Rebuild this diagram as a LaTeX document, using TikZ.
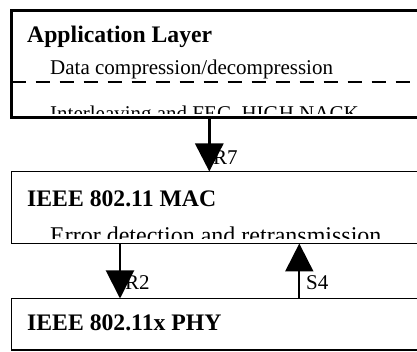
\documentclass[tikz,border=0pt]{standalone}
\usepackage{fontspec}
\setmainfont{Liberation Serif}
\usetikzlibrary{arrows.meta}

\tikzset{
  layer/.style={draw, line width=#1, inner sep=0pt, outer sep=0pt, anchor=north west},
  txt/.style={anchor=base west, inner sep=0pt, font=\fontsize{21}{25}\selectfont},
  head/.style={anchor=base west, inner sep=0pt, font=\fontsize{23.7}{28}\selectfont\bfseries},
  flow/.style={line width=#1, -{Triangle[length=28pt,width=28pt]}},
}

\begin{document}
\begin{tikzpicture}[x=1pt,y=-1pt]
  \useasboundingbox (0,0) rectangle (417,352);
  \clip (0,0) rectangle (417,352);

  % text lines cut off near the bottom edge of their layer
  \begin{scope}
    \clip (11.5,10.5) rectangle (417,113.5);
    \node[txt] (app3) at (50,121) {Interleaving and FEC, HIGH NACK};
  \end{scope}
  \begin{scope}
    \clip (11.5,171.5) rectangle (417,238.5);
    \node[txt, font=\fontsize{24}{28}\selectfont] (mac2) at (50,244) {Error detection and retransmission};
  \end{scope}

  % layers (they run on past the right edge)
  \node[layer=3pt, minimum width=420pt, minimum height=107pt] (app) at (11.5,10.5) {};
  \node[layer=1.5pt, minimum width=420pt, minimum height=72pt] (mac) at (11.5,171.5) {};
  \node[layer=1.5pt, minimum width=420pt, minimum height=51.5pt] (phy) at (11.5,298.5) {};

  % sublayer split inside the application layer
  \coordinate (splitL) at (11.5,81.7);
  \coordinate (splitR) at (430,81.7);
  \draw[line width=2pt, dash pattern=on 14pt off 10pt] (splitL) -- (splitR);

  % layer titles and functions
  \node[head] (app1) at (27,43) {Application Layer};
  \node[txt] (app2) at (50,75) {Data compression/decompression};
  \node[head] (mac1) at (27,207) {IEEE 802.11 MAC};
  \node[head] (phy1) at (27,330) {IEEE 802.11x PHY};

  % primitives between layers
  \coordinate (xR7) at (209.3,0);
  \coordinate (xR2) at (120,0);
  \coordinate (xS4) at (299.3,0);
  \draw[flow=3pt] (app.south -| xR7) -- (mac.north -| xR7);
  \draw[flow=2pt] (mac.south -| xR2) -- (phy.north -| xR2);
  \draw[flow=2pt] (phy.north -| xS4) -- (mac.south -| xS4);

  \node[txt] (lR7) at (213,165) {R7};
  \node[txt] (lR2) at (125,290) {R2};
  \node[txt] (lS4) at (306,290) {S4};
\end{tikzpicture}
\end{document}
